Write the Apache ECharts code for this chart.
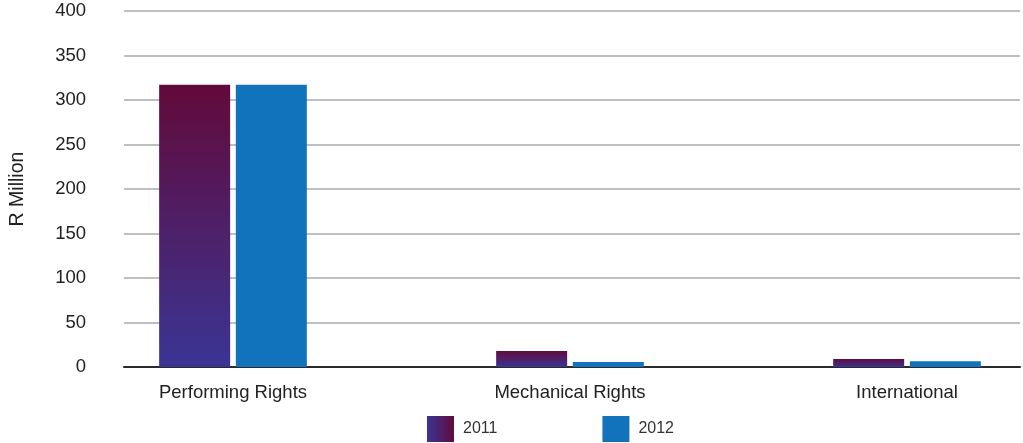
<!DOCTYPE html>
<html>
<head>
<meta charset="utf-8">
<script src="https://cdn.jsdelivr.net/npm/echarts@6/dist/echarts.min.js"></script>
<style>
  html, body { margin: 0; padding: 0; background: #fff; }
  #chart { width: 1023px; height: 443px; }
</style>
</head>
<body>
<div id="chart"></div>
<script>
// 数据
var categories = ['Performing Rights', 'Mechanical Rights', 'International'];
var years = ['2011', '2012'];
var values2011 = [317, 18, 9];
var values2012 = [317, 5.5, 6.5];
var yTicks = { min: 0, max: 400, interval: 50 };

var myChart = echarts.init(document.getElementById('chart'));

var fontFamily = '"Liberation Sans", Arial, Helvetica, sans-serif';

// 2011 柱子渐变 (上深红 下蓝紫)
var grad2011 = new echarts.graphic.LinearGradient(0, 0, 0, 1, [{
	offset: 0, color: '#620a3a'
}, {
	offset: 1, color: '#3a3594'
}]);
// 图例的渐变是横向的
var gradLegend = new echarts.graphic.LinearGradient(0, 0, 1, 0, [{
	offset: 0, color: '#3a3594'
}, {
	offset: 1, color: '#620a3a'
}]);
var color2012 = '#1173bb';

// 类别放在数值轴上 (原图类别中心偏左, 不在网格正中)
var toPairs = function (arr) {
	return arr.map(function (v, i) {
		return [i, v];
	});
};

var option = {
	animation: false,
	backgroundColor: '#fff',
	legend: {
		bottom: 1,
		left: 427,
		padding: 0,
		icon: 'rect',
		itemWidth: 27,
		itemHeight: 26,
		itemGap: 105,
		textStyle: { color: '#333', fontSize: 16, fontFamily: fontFamily, padding: [0, 0, 0, 4] },
		data: [
			{ name: '2011', itemStyle: { color: gradLegend } },
			{ name: '2012', itemStyle: { color: color2012 } }
		]
	},
	grid: { left: 124, right: 3, top: 11, bottom: 76 },
	xAxis: {
		type: 'value',
		min: -0.3234,
		max: 2.3353,
		axisLine: { show: true, onZero: false, lineStyle: { color: '#2a2a2a', width: 2 } },
		axisTick: { show: false },
		splitLine: { show: false },
		axisLabel: {
			customValues: [0, 1, 2],
			formatter: function (v) {
				return categories[Math.round(v)];
			},
			margin: 16,
			color: '#222',
			fontSize: 18.5,
			fontFamily: fontFamily
		}
	},
	yAxis: {
		type: 'value',
		min: yTicks.min,
		max: yTicks.max,
		interval: yTicks.interval,
		name: 'R Million',
		nameLocation: 'middle',
		nameRotate: 90,
		nameGap: 96,
		nameTextStyle: { color: '#222', fontSize: 19.5, fontFamily: fontFamily },
		axisLine: { show: false },
		axisTick: { show: false },
		axisLabel: {
			margin: 38,
			color: '#222',
			fontSize: 18.5,
			fontFamily: fontFamily
		},
		splitLine: { show: true, lineStyle: { color: '#a9aaa9', width: 1.5 } }
	},
	series: [
		{
			name: years[0],
			type: 'bar',
			barWidth: 71,
			barGap: '8%',
			itemStyle: { color: grad2011 },
			data: toPairs(values2011)
		},
		{
			name: years[1],
			type: 'bar',
			barWidth: 71,
			barGap: '8%',
			itemStyle: { color: color2012 },
			data: toPairs(values2012)
		}
	]
};

myChart.setOption(option);
</script>
</body>
</html>
